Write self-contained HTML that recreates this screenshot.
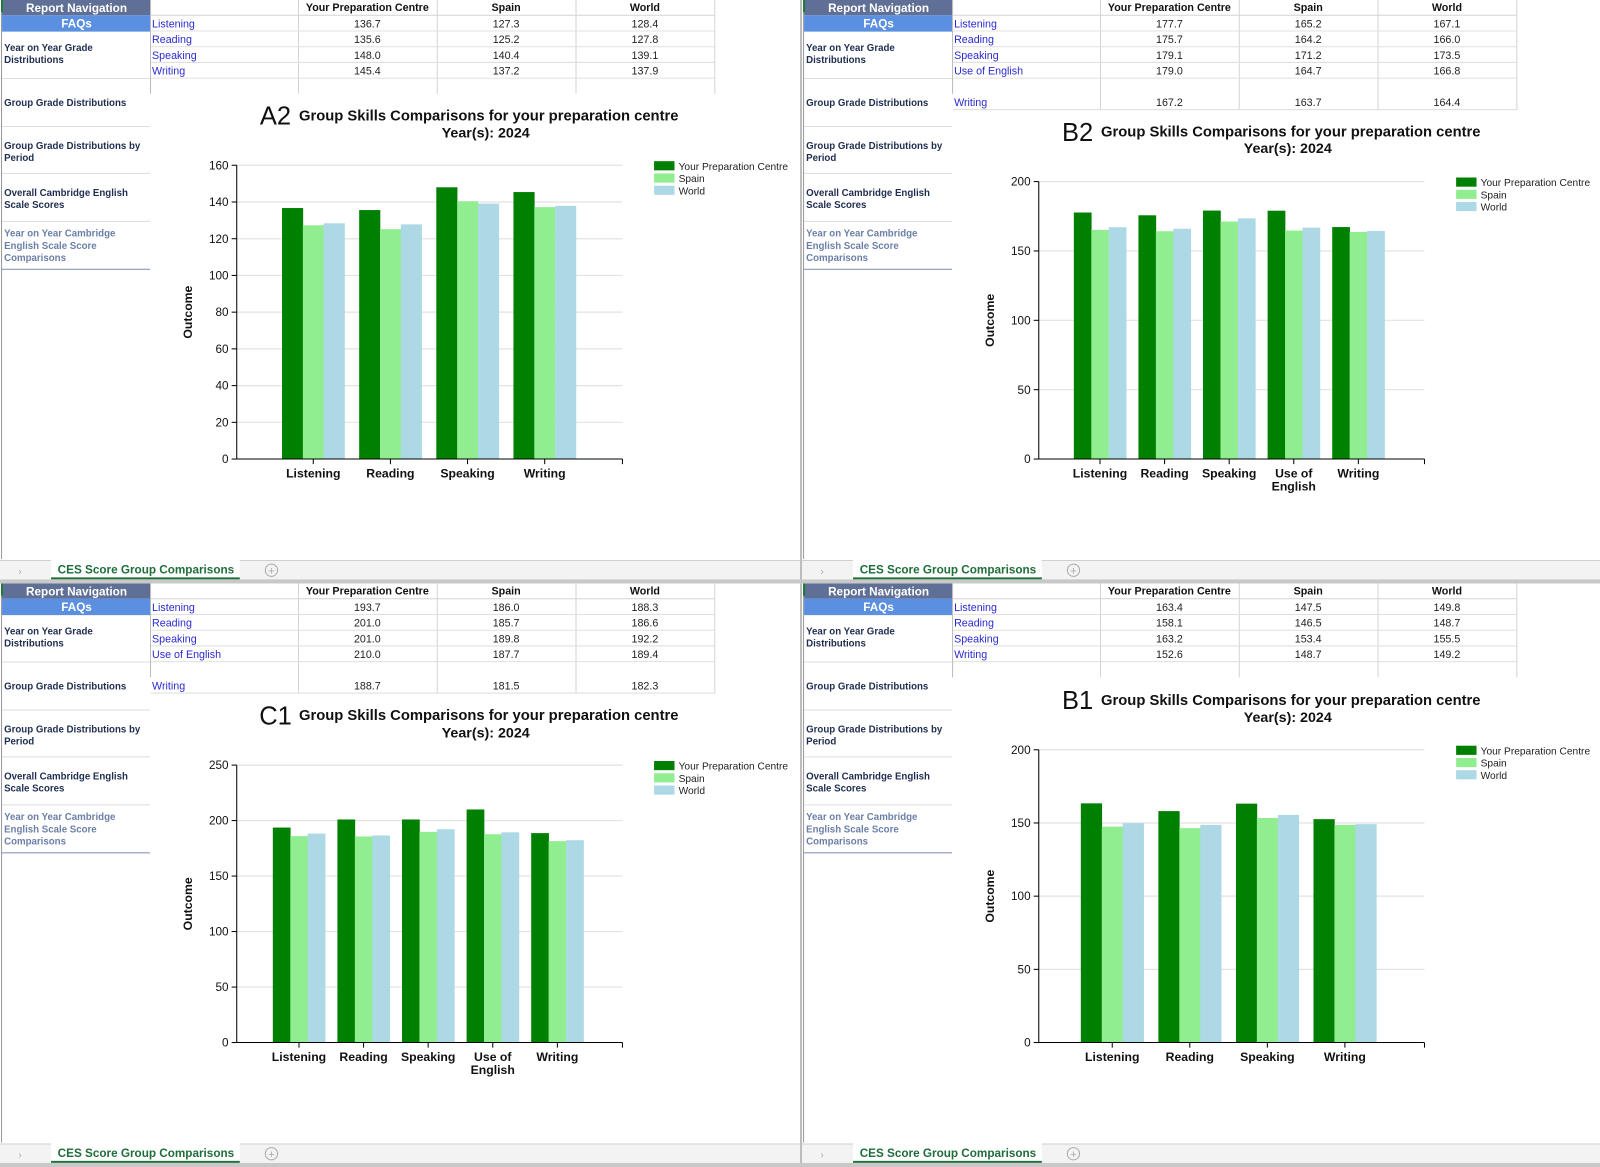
<!DOCTYPE html>
<html><head><meta charset="utf-8"><style>
html,body{margin:0;padding:0;background:#fff;overflow:hidden}
svg{display:block;font-family:"Liberation Sans",Arial,sans-serif}
</style></head><body>
<svg id="s" width="1600" height="1167" viewBox="0 0 1568 1144" preserveAspectRatio="none" xmlns="http://www.w3.org/2000/svg"></svg>
<script>
var NS="http://www.w3.org/2000/svg",S=document.getElementById('s');
function el(t,a,txt,p){var e=document.createElementNS(NS,t);for(var k in a)e.setAttribute(k,a[k]);if(txt!=null)e.textContent=txt;(p||S).appendChild(e);return e;}
el('rect',{x:0,y:0,width:1568,height:1144,fill:'#fff'});
var Q=[
{ox:0,oy:0,code:'A2',rows:[['Listening',136.7,127.3,128.4],['Reading',135.6,125.2,127.8],['Speaking',148.0,140.4,139.1],['Writing',145.4,137.2,137.9]],gap:false,tY:113,yY:130,top:162,bot:450,max:160,step:20,c0:307,sp:75.6,lg:158},
{ox:786,oy:0,code:'B2',rows:[['Listening',177.7,165.2,167.1],['Reading',175.7,164.2,166.0],['Speaking',179.1,171.2,173.5],['Use of English',179.0,164.7,166.8],['Writing',167.2,163.7,164.4]],gap:true,tY:129,yY:145,top:178,bot:450,max:200,step:50,c0:292,sp:63.3,lg:174},
{ox:0,oy:572,code:'C1',rows:[['Listening',193.7,186.0,188.3],['Reading',201.0,185.7,186.6],['Speaking',201.0,189.8,192.2],['Use of English',210.0,187.7,189.4],['Writing',188.7,181.5,182.3]],gap:true,tY:129,yY:146,top:178,bot:450,max:250,step:50,c0:293,sp:63.3,lg:174},
{ox:786,oy:572,code:'B1',rows:[['Listening',163.4,147.5,149.8],['Reading',158.1,146.5,148.7],['Speaking',163.2,153.4,155.5],['Writing',152.6,148.7,149.2]],gap:false,tY:114,yY:131,top:163,bot:450,max:200,step:50,c0:304,sp:76,lg:159}
];
var cols=['#008000','#90ee90','#add8e6'];
Q.forEach(function(q){
 var g=el('g',{transform:'translate('+q.ox+','+q.oy+')'});
 // nav
 el('rect',{x:2,y:0,width:145,height:15,fill:'#5f6f96'},null,g);
 el('text',{x:75,y:12,'text-anchor':'middle','font-size':11.5,'font-weight':'bold',fill:'#fff'},'Report Navigation',g);
 el('rect',{x:2,y:15,width:145,height:16,fill:'#5b8fe0'},null,g);
 el('text',{x:75,y:27,'text-anchor':'middle','font-size':11.5,'font-weight':'bold',fill:'#fff'},'FAQs',g);
 el('line',{x1:1.5,y1:0,x2:1.5,y2:548,stroke:'#999'},null,g);
 el('line',{x1:2,y1:0,x2:2,y2:12,stroke:'#1d7a3a','stroke-width':2},null,g);
 var nav=[[['Year on Year Grade','Distributions'],31,77,50],[['Group Grade Distributions'],77,124,104],[['Group Grade Distributions by','Period'],124,170,146],[['Overall Cambridge English','Scale Scores'],170,217,192],[['Year on Year Cambridge','English Scale Score','Comparisons'],217,264,232]];
 nav.forEach(function(n,i){
  n[0].forEach(function(t,j){el('text',{x:4,y:n[3]+j*12,'font-size':9.5,'font-weight':'bold',fill:i==4?'#6b7fa8':'#1f2d50'},t,g);});
  el('line',{x1:2,y1:n[2],x2:147,y2:n[2],stroke:i==4?'#8899bb':'#dcdcdc','stroke-width':i==4?1.2:1},null,g);
 });
 el('line',{x1:147.5,y1:0,x2:147.5,y2:92,stroke:'#bbb'},null,g);
 // table
 var cx=[292,428,564,700],hd=['Your Preparation Centre','Spain','World'];
 hd.forEach(function(h,i){el('text',{x:(cx[i]+cx[i+1])/2,y:11,'text-anchor':'middle','font-size':10.5,'font-weight':'bold',fill:'#111'},h,g);});
 var bottom=q.gap?108:92;
 cx.forEach(function(x){el('line',{x1:x+.5,y1:0,x2:x+.5,y2:bottom,stroke:'#d4d4d4'},null,g);});
 el('line',{x1:148,y1:15,x2:700,y2:15,stroke:'#d4d4d4'},null,g);
 q.rows.forEach(function(r,i){
  var ri=(q.gap&&i==4)?5:i;var by=15+15.4*ri+12;
  el('text',{x:149,y:by,'font-size':10.5,fill:'#2a2ad0'},r[0],g);
  for(var k=0;k<3;k++)el('text',{x:(cx[k]+cx[k+1])/2,y:by,'text-anchor':'middle','font-size':10.5,fill:'#222'},r[k+1].toFixed(1),g);
  el('line',{x1:148,y1:15+15.4*(ri+1),x2:700,y2:15+15.4*(ri+1),stroke:'#e0e0e0'},null,g);
 });
 // title
 el('text',{x:270,y:q.tY+9,'text-anchor':'middle','font-size':25,fill:'#111'},q.code,g);
 el('text',{x:293,y:q.tY+5,'font-size':14.5,'font-weight':'bold',fill:'#111'},'Group Skills Comparisons for your preparation centre',g);
 el('text',{x:476,y:q.yY+5,'text-anchor':'middle','font-size':14,'font-weight':'bold',fill:'#111'},'Year(s): 2024',g);
 // axes
 var ax=232,ar=610,H=q.bot-q.top;
 function Y(v){return q.bot-v/q.max*H;}
 for(var v=0;v<=q.max;v+=q.step){var y=Y(v);
  if(v>0)el('line',{x1:ax,y1:y,x2:ar,y2:y,stroke:'#e2e2e2','stroke-width':1.2},null,g);
  el('line',{x1:ax-5,y1:y,x2:ax,y2:y,stroke:'#000'},null,g);
  el('text',{x:ax-8,y:y+4,'text-anchor':'end','font-size':11.5,fill:'#111'},String(v),g);}
 el('text',{transform:'translate(188,'+(q.top+H/2)+') rotate(-90)','text-anchor':'middle','font-size':12,'font-weight':'bold',fill:'#111'},'Outcome',g);
 var bw=q.sp*0.27;
 q.rows.forEach(function(r,i){var c=q.c0+q.sp*i;
  for(var k=0;k<3;k++){var y=Y(r[k+1]);el('rect',{x:c-1.5*bw+k*bw,y:y,width:bw+.3,height:q.bot-y,fill:cols[k]},null,g);}
  el('line',{x1:c,y1:q.bot,x2:c,y2:q.bot+5,stroke:'#000'},null,g);
  if(r[0]=='Use of English'){
   el('text',{x:c,y:q.bot+18,'text-anchor':'middle','font-size':12,'font-weight':'bold',fill:'#111'},'Use of',g);
   el('text',{x:c,y:q.bot+31,'text-anchor':'middle','font-size':12,'font-weight':'bold',fill:'#111'},'English',g);
  } else el('text',{x:c,y:q.bot+18,'text-anchor':'middle','font-size':12,'font-weight':'bold',fill:'#111'},r[0],g);
 });
 el('line',{x1:ax,y1:q.top,x2:ax,y2:q.bot,stroke:'#000'},null,g);
 el('line',{x1:ax,y1:q.bot,x2:ar,y2:q.bot,stroke:'#000'},null,g);
 el('line',{x1:ar,y1:q.bot,x2:ar,y2:q.bot+5,stroke:'#000'},null,g);
 // legend
 ['Your Preparation Centre','Spain','World'].forEach(function(t,k){
  el('rect',{x:641,y:q.lg+k*12,width:20,height:9,fill:cols[k]},null,g);
  el('text',{x:665,y:q.lg+k*12+8.5,'font-size':10,fill:'#222'},t,g);});
 // tab bar
 el('rect',{x:0,y:549,width:785,height:20,fill:'#f3f3f3'},null,g);
 el('line',{x1:0,y1:549.5,x2:785,y2:549.5,stroke:'#cfcfcf'},null,g);
 el('rect',{x:50,y:549,width:185,height:19,fill:'#fff'},null,g);
 el('line',{x1:50,y1:567,x2:235,y2:567,stroke:'#1e6e3a','stroke-width':2},null,g);
 el('text',{x:143,y:562,'text-anchor':'middle','font-size':11.5,'font-weight':'bold',fill:'#1e6e3a'},'CES Score Group Comparisons',g);
 el('circle',{cx:266,cy:559,r:6,fill:'none',stroke:'#aaa'},null,g);
 el('text',{x:266,y:563,'text-anchor':'middle','font-size':11,fill:'#aaa'},'+',g);
 el('text',{x:18,y:563,'font-size':10,fill:'#aaa'},'›',g);
 el('text',{x:781,y:563,'font-size':10,fill:'#888'},'⋮',g);
});
el('rect',{x:784,y:0,width:2,height:1144,fill:'#bdbdbd'});
el('rect',{x:0,y:568,width:1568,height:4,fill:'#c8c8c8'});
el('rect',{x:0,y:1140,width:1568,height:4,fill:'#c8c8c8'});
</script>
</body></html>
